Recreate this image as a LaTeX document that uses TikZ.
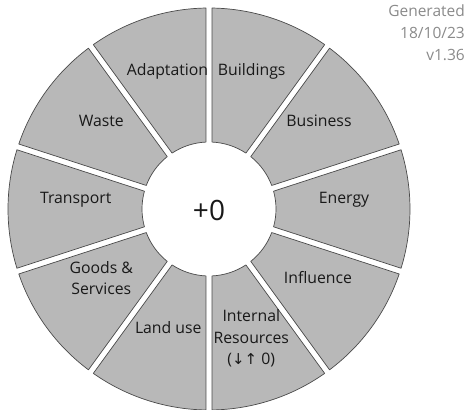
\documentclass[tikz,border=0pt]{standalone}
\usepackage{fontspec}
\setmainfont{Open Sans}
\newfontfamily\arrowfont{DejaVu Sans}
\usepackage{tikz}

\definecolor{sectorfill}{HTML}{B8B8B8}
\definecolor{sectorline}{HTML}{4A4A4A}
\definecolor{stampgray}{HTML}{8A8A8A}

\begin{document}
\begin{tikzpicture}[x=1pt,y=1pt,
  sector/.style={fill=sectorfill,draw=sectorline,line width=0.7pt,line join=round},
  sectorlabel/.style={inner sep=0pt,align=center,text=black!90,font=\fontsize{15.8}{21.5}\selectfont}]
\useasboundingbox (-209,-201) rectangle (258,209);

% sectors, outer radius 201, inner radius 67, gap 6
\draw[sector](54.86:201) arc[start angle=54.86,end angle=89.14,radius=201]--(87.43:67) arc[start angle=87.43,end angle=56.57,radius=67]--cycle;
\draw[sector](18.86:201) arc[start angle=18.86,end angle=53.14,radius=201]--(51.43:67) arc[start angle=51.43,end angle=20.57,radius=67]--cycle;
\draw[sector](-17.14:201) arc[start angle=-17.14,end angle=17.14,radius=201]--(15.43:67) arc[start angle=15.43,end angle=-15.43,radius=67]--cycle;
\draw[sector](-53.14:201) arc[start angle=-53.14,end angle=-18.86,radius=201]--(-20.57:67) arc[start angle=-20.57,end angle=-51.43,radius=67]--cycle;
\draw[sector](-89.14:201) arc[start angle=-89.14,end angle=-54.86,radius=201]--(-56.57:67) arc[start angle=-56.57,end angle=-87.43,radius=67]--cycle;
\draw[sector](-125.14:201) arc[start angle=-125.14,end angle=-90.86,radius=201]--(-92.57:67) arc[start angle=-92.57,end angle=-123.43,radius=67]--cycle;
\draw[sector](-161.14:201) arc[start angle=-161.14,end angle=-126.86,radius=201]--(-128.57:67) arc[start angle=-128.57,end angle=-159.43,radius=67]--cycle;
\draw[sector](162.86:201) arc[start angle=162.86,end angle=197.14,radius=201]--(195.43:67) arc[start angle=195.43,end angle=164.57,radius=67]--cycle;
\draw[sector](126.86:201) arc[start angle=126.86,end angle=161.14,radius=201]--(159.43:67) arc[start angle=159.43,end angle=128.57,radius=67]--cycle;
\draw[sector](90.86:201) arc[start angle=90.86,end angle=125.14,radius=201]--(123.43:67) arc[start angle=123.43,end angle=92.57,radius=67]--cycle;

% labels
\node[sectorlabel](buildings) at (42.7,137.3){Buildings};
\node[sectorlabel](business) at (110,88.3){Business};
\node[sectorlabel](energy) at (135,9){Energy};
\node[sectorlabel](influence) at (109,-69){Influence};
\node[sectorlabel](internal) at (42.3,-129.3){Internal\\Resources\\({\arrowfont\fontsize{15}{21.5}\selectfont ↓↑} 0)};
\node[sectorlabel](landuse) at (-40.7,-118.3){Land use};
\node[sectorlabel](goods) at (-107.7,-69.3){Goods \&\\Services};
\node[sectorlabel](transport) at (-133.2,9){Transport};
\node[sectorlabel](waste) at (-107.7,88.3){Waste};
\node[sectorlabel](adaptation) at (-41.5,137.3){Adaptation};

\node[inner sep=0pt,text=black!90,font=\fontsize{28}{30}\selectfont](total) at (0,-1){+0};
\node[inner sep=0pt,anchor=north east,align=right,text=stampgray,font=\fontsize{15.5}{22}\selectfont](stamp) at (256,204){Generated\\18/10/23\\v1.36};
\end{tikzpicture}
\end{document}
